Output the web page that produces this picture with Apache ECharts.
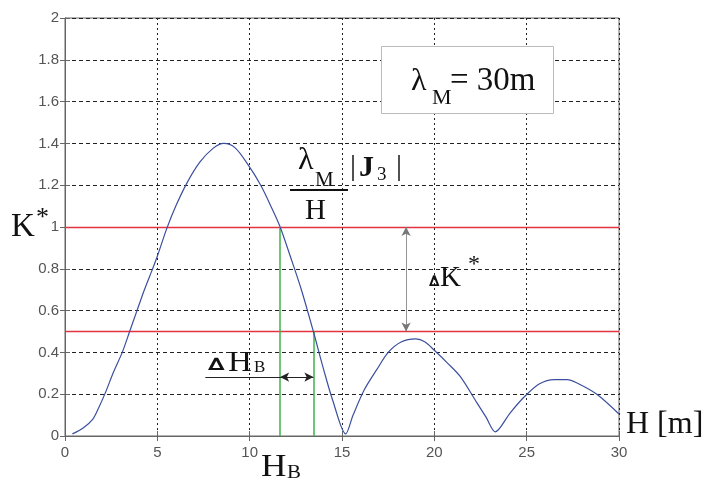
<!DOCTYPE html>
<html>
<head>
<meta charset="utf-8">
<script src="https://cdn.jsdelivr.net/npm/echarts@6/dist/echarts.min.js"></script>
<style>html,body{margin:0;padding:0;background:#fff;}#chart{width:709px;height:485px;}</style>
</head>
<body>
<div id="chart"></div>
<script>
// Data
var hValues = [0.4, 1.0, 1.5, 1.8, 2.2, 2.6, 3.1, 3.5, 3.9, 4.3, 4.7, 5.0, 5.5, 6.0, 6.6, 7.3, 8.0, 8.6, 9.2, 9.9, 10.6, 11.2, 11.65, 12.2, 12.8, 13.45, 14.0, 14.5, 15.2, 15.6, 16.2, 16.9, 17.5, 18.2, 19.0, 19.5, 20.0, 20.7, 21.4, 22.3, 22.8, 23.3, 24.1, 24.9, 25.7, 26.5, 27.2, 27.7, 28.8, 30.0];
var kValues = [0.01, 0.04, 0.08, 0.13, 0.21, 0.30, 0.40, 0.50, 0.60, 0.70, 0.79, 0.86, 0.99, 1.10, 1.21, 1.31, 1.375, 1.40, 1.38, 1.30, 1.20, 1.09, 1.00, 0.86, 0.70, 0.50, 0.32, 0.17, 0.01, 0.10, 0.22, 0.32, 0.40, 0.45, 0.465, 0.45, 0.41, 0.35, 0.285, 0.16, 0.09, 0.02, 0.11, 0.19, 0.25, 0.27, 0.27, 0.255, 0.20, 0.105];
var xTicks = [0, 5, 10, 15, 20, 25, 30];
var yTicks = [0, 0.2, 0.4, 0.6, 0.8, 1, 1.2, 1.4, 1.6, 1.8, 2];
var kLevels = [1, 0.5];          // red threshold lines
var hB = [11.65, 13.45];          // green vertical lines (H_B limits)
var deltaHLevel = 0.282;          // K level of the ΔH_B arrow
var deltaHLeft = 7.6;             // start of the ΔH_B underline
var deltaKH = 18.47;              // H position of the ΔK* arrow

var curve = hValues.map(function (h, i) { return [h, kValues[i]]; });
var serif = '"Liberation Serif", "Times New Roman", serif';

var chart = echarts.init(document.getElementById('chart'), null, {renderer: 'canvas'});

function helper(name, data, style, symbol) {
  return {
    type: 'line', name: name, data: [], silent: true,
    markLine: {
      silent: true, animation: false,
      symbol: symbol, symbolSize: [7, 9],
      label: {show: false}, emphasis: {disabled: true},
      lineStyle: style,
      data: data
    }
  };
}

function txt(x, y, text, font, extra) {
  var el = {type: 'text', z: 101, x: x, y: y, style: {text: text, font: font, fill: '#111', verticalAlign: 'middle'}};
  if (extra) { for (var k in extra) { el[k] = extra[k]; } }
  return el;
}

var option = {
  animation: false,
  backgroundColor: '#fff',
  grid: {left: 65, right: 90, top: 18, bottom: 49, show: true, borderColor: '#666', borderWidth: 1, backgroundColor: 'transparent'},
  xAxis: [{
    type: 'value', min: xTicks[0], max: xTicks[xTicks.length - 1], interval: 5,
    axisLine: {show: true, lineStyle: {color: '#666'}},
    axisTick: {show: true, inside: true, length: 5, lineStyle: {color: '#666'}},
    axisLabel: {color: '#555', fontSize: 15, margin: 9, fontFamily: '"Liberation Sans", Arial, sans-serif'},
    splitLine: {show: true, lineStyle: {color: '#222', type: [2, 3], width: 1}}
  }, {
    type: 'value', position: 'top', min: 0, max: 30, interval: 5,
    axisLine: {show: true, lineStyle: {color: '#666'}},
    axisTick: {show: true, inside: true, length: 5, lineStyle: {color: '#666'}},
    axisLabel: {show: false}, splitLine: {show: false}
  }],
  yAxis: [{
    type: 'value', min: yTicks[0], max: yTicks[yTicks.length - 1], interval: 0.2,
    axisLine: {show: true, lineStyle: {color: '#666'}},
    axisTick: {show: true, inside: true, length: 5, lineStyle: {color: '#666'}},
    axisLabel: {color: '#555', fontSize: 15, margin: 6, fontFamily: '"Liberation Sans", Arial, sans-serif'},
    splitLine: {show: true, lineStyle: {color: '#222', type: [4, 3], width: 1}}
  }, {
    type: 'value', position: 'right', min: 0, max: 2, interval: 0.2,
    axisLine: {show: true, lineStyle: {color: '#666'}},
    axisTick: {show: true, inside: true, length: 5, lineStyle: {color: '#666'}},
    axisLabel: {show: false}, splitLine: {show: false}
  }],
  series: [
    helper('levels', kLevels.map(function (k) { return {yAxis: k}; }), {color: '#e33240', width: 1.3, type: 'solid'}, 'none'),
    helper('hb', [
      [{coord: [hB[0], 0]}, {coord: [hB[0], kLevels[0]]}],
      [{coord: [hB[1], 0]}, {coord: [hB[1], kLevels[1]]}]
    ], {color: '#3fb34a', width: 1.5, type: 'solid'}, 'none'),
    helper('underline', [
      [{coord: [deltaHLeft, deltaHLevel]}, {coord: [hB[0], deltaHLevel]}]
    ], {color: '#222', width: 1, type: 'solid'}, 'none'),
    helper('dh', [
      [{coord: [hB[0], deltaHLevel]}, {coord: [hB[1], deltaHLevel]}]
    ], {color: '#222', width: 1, type: 'solid'}, ['arrow', 'arrow']),
    helper('dk', [
      [{coord: [deltaKH, kLevels[0]]}, {coord: [deltaKH, kLevels[1]]}]
    ], {color: '#777', width: 0.8, type: 'solid'}, ['arrow', 'arrow']),
    {
      type: 'line', name: 'K*', data: curve, showSymbol: false, smooth: 0.3,
      lineStyle: {color: '#3b4f9f', width: 1.2}, itemStyle: {color: '#3b4f9f'}, z: 5
    }
  ],
  graphic: [
    {type: 'rect', z: 100, shape: {x: 381.5, y: 46.5, width: 172, height: 67}, style: {fill: '#fff', stroke: '#bbb', lineWidth: 1}},
    txt(411, 82, 'λ', '32px ' + serif),
    txt(432, 98, 'M', '22px ' + serif),
    txt(450, 81, '= 30m', '33px ' + serif),

    txt(11, 227, 'K', '33px ' + serif),
    txt(36, 218, '*', '26px ' + serif),

    txt(626, 425, 'H [m]', '32px ' + serif),

    txt(261, 468, 'H', '32px ' + serif, {scaleX: 1.1}),
    txt(287, 473, 'B', '19px ' + serif, {scaleX: 1.1}),

    txt(208, 366, '∆', 'bold 17px "DejaVu Sans", sans-serif', {scaleX: 1.4}),
    txt(228, 363, 'H', '30px ' + serif, {scaleX: 1.1}),
    txt(254, 368, 'B', '17px ' + serif),

    txt(429, 282, '∆', 'bold 15px "DejaVu Sans", sans-serif'),
    txt(440, 278, 'K', '29px ' + serif),
    txt(468, 265, '*', '24px ' + serif),

    txt(298, 161, 'λ', '32px ' + serif),
    txt(315, 180, 'M', '21px ' + serif),
    txt(350, 167, '|', '30px ' + serif),
    txt(359, 168, 'J', 'bold 30px ' + serif),
    txt(377, 175, '3', '19px ' + serif),
    txt(396, 167, '|', '30px ' + serif),
    {type: 'line', z: 101, shape: {x1: 290, y1: 190, x2: 348, y2: 190}, style: {stroke: '#111', lineWidth: 2}},
    txt(305, 211, 'H', '29px ' + serif)
  ]
};
chart.setOption(option);
</script>
</body>
</html>
